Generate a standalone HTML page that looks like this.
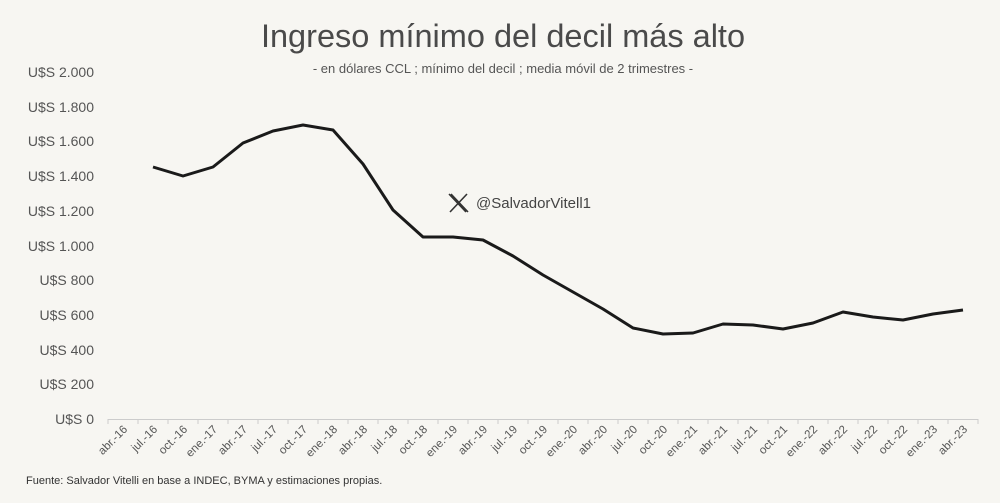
<!DOCTYPE html>
<html><head><meta charset="utf-8"><style>
html,body{margin:0;padding:0;background:#f7f6f2;}
svg{display:block;font-family:"Liberation Sans",sans-serif;}
</style></head><body>
<svg width="1000" height="503" viewBox="0 0 1000 503" xmlns="http://www.w3.org/2000/svg">
<rect width="1000" height="503" fill="#f7f6f2"/>
<text x="503" y="47" text-anchor="middle" font-size="32.5" fill="#4a4a4a">Ingreso mínimo del decil más alto</text>
<text x="503" y="73" text-anchor="middle" font-size="13" fill="#555">- en dólares CCL ; mínimo del decil ; media móvil de 2 trimestres -</text>
<g font-size="14" fill="#555" text-anchor="end">
<text x="94" y="77">U$S 2.000</text>
<text x="94" y="112">U$S 1.800</text>
<text x="94" y="146">U$S 1.600</text>
<text x="94" y="181">U$S 1.400</text>
<text x="94" y="216">U$S 1.200</text>
<text x="94" y="251">U$S 1.000</text>
<text x="94" y="285">U$S 800</text>
<text x="94" y="320">U$S 600</text>
<text x="94" y="355">U$S 400</text>
<text x="94" y="389">U$S 200</text>
<text x="94" y="424">U$S 0</text>
</g>
<line x1="108" y1="419.5" x2="978" y2="419.5" stroke="#ccc" stroke-width="1"/>
<g id="ticks" stroke="#ccc"></g>
<g id="xl" font-size="11.5" fill="#555"></g>
<polyline fill="none" stroke="#1a1a1a" stroke-width="3" stroke-linejoin="round" points="153,167 183,176 213,167 243,143 273,131 303,125 333,130 363,164 393,210 423,237 453,237 483,240 513,256 543,275 573,292 603,309 633,328 663,334 693,333 723,324 753,325 783,329 813,323 843,312 873,317 903,320 933,314 963,310"/>
<g stroke="#333" stroke-width="1.6" fill="none"><path d="M449 194 L466 212 M451 194 L468 212 M467 194 L450 212"/></g>
<text x="476" y="208" font-size="15" fill="#444">@SalvadorVitell1</text>
<text x="26" y="484" font-size="11" fill="#333">Fuente: Salvador Vitelli en base a INDEC, BYMA y estimaciones propias.</text>
</svg>
<script>
var labs=["abr.-16","jul.-16","oct.-16","ene.-17","abr.-17","jul.-17","oct.-17","ene.-18","abr.-18","jul.-18","oct.-18","ene.-19","abr.-19","jul.-19","oct.-19","ene.-20","abr.-20","jul.-20","oct.-20","ene.-21","abr.-21","jul.-21","oct.-21","ene.-22","abr.-22","jul.-22","oct.-22","ene.-23","abr.-23"];
var ns="http://www.w3.org/2000/svg",xl=document.getElementById("xl"),tk=document.getElementById("ticks");
for(var i=0;i<=29;i++){var l=document.createElementNS(ns,"line");var x=108+30*i;l.setAttribute("x1",x);l.setAttribute("x2",x);l.setAttribute("y1",419);l.setAttribute("y2",424);tk.appendChild(l);}
labs.forEach(function(s,i){var t=document.createElementNS(ns,"text");var x=128+30*i,y=430;t.setAttribute("x",x);t.setAttribute("y",y);t.setAttribute("text-anchor","end");t.setAttribute("transform","rotate(-45 "+x+" "+y+")");t.textContent=s;xl.appendChild(t);});
</script>
</body></html>
